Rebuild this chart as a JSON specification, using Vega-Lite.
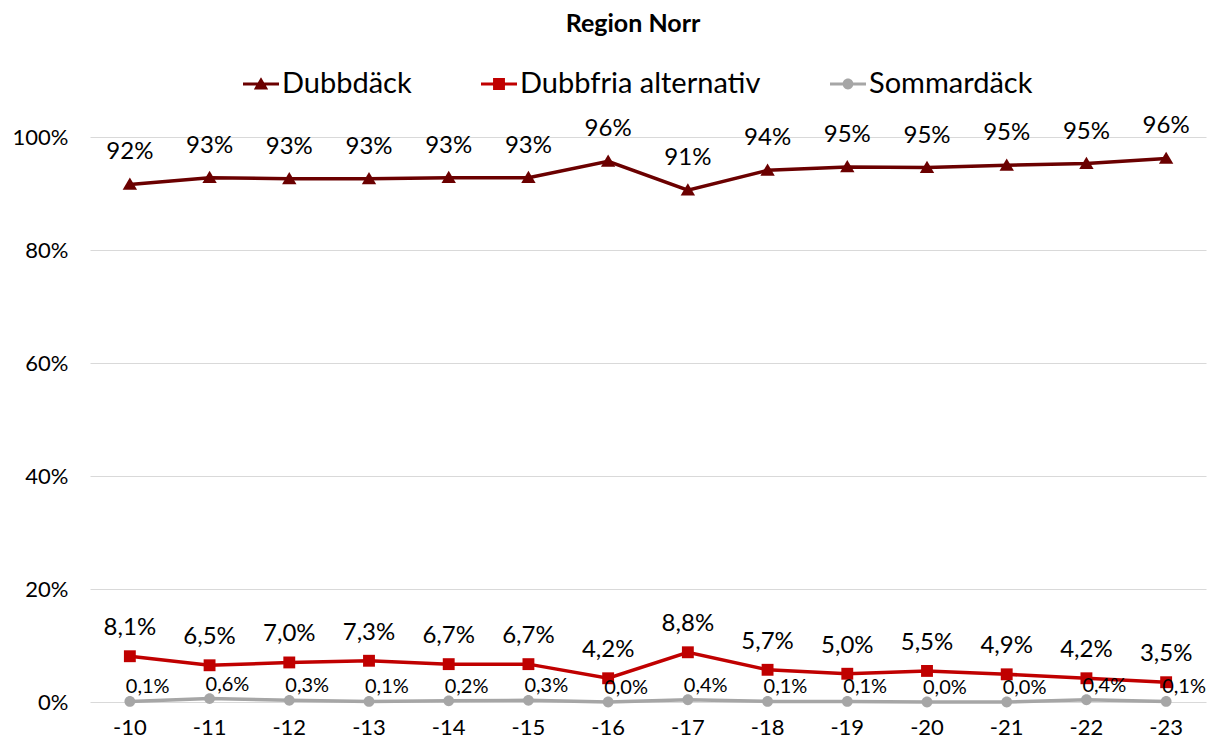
{
  "$schema": "https://vega.github.io/schema/vega-lite/v6.json",
  "autosize": "none",
  "width": 1116,
  "height": 565,
  "padding": {"left": 90, "top": 137, "right": 16, "bottom": 45},
  "background": "white",
  "config": {
    "locale": {"number": {"decimal": ",", "thousands": " ", "grouping": [3], "currency": ["", " kr"]}},
    "view": {"stroke": null},
    "font": "Lato",
    "axis": {"labelFont": "Lato", "labelColor": "#000000", "labelFontSize": 22, "ticks": false, "domain": false, "title": null}
  },
  "title": {"text": "Region Norr", "font": "Lato", "fontSize": 25, "fontWeight": "bold", "color": "#000000", "anchor": "middle", "frame": "group", "dx": -15, "offset": 28},
  "data": {"values": [
    {"year": "-10", "series": "Dubbdäck", "value": 0.916},
    {"year": "-11", "series": "Dubbdäck", "value": 0.928},
    {"year": "-12", "series": "Dubbdäck", "value": 0.926},
    {"year": "-13", "series": "Dubbdäck", "value": 0.926},
    {"year": "-14", "series": "Dubbdäck", "value": 0.928},
    {"year": "-15", "series": "Dubbdäck", "value": 0.928},
    {"year": "-16", "series": "Dubbdäck", "value": 0.957},
    {"year": "-17", "series": "Dubbdäck", "value": 0.906},
    {"year": "-18", "series": "Dubbdäck", "value": 0.941},
    {"year": "-19", "series": "Dubbdäck", "value": 0.947},
    {"year": "-20", "series": "Dubbdäck", "value": 0.946},
    {"year": "-21", "series": "Dubbdäck", "value": 0.950},
    {"year": "-22", "series": "Dubbdäck", "value": 0.953},
    {"year": "-23", "series": "Dubbdäck", "value": 0.962},
    {"year": "-10", "series": "Dubbfria alternativ", "value": 0.081},
    {"year": "-11", "series": "Dubbfria alternativ", "value": 0.065},
    {"year": "-12", "series": "Dubbfria alternativ", "value": 0.070},
    {"year": "-13", "series": "Dubbfria alternativ", "value": 0.073},
    {"year": "-14", "series": "Dubbfria alternativ", "value": 0.067},
    {"year": "-15", "series": "Dubbfria alternativ", "value": 0.067},
    {"year": "-16", "series": "Dubbfria alternativ", "value": 0.042},
    {"year": "-17", "series": "Dubbfria alternativ", "value": 0.088},
    {"year": "-18", "series": "Dubbfria alternativ", "value": 0.057},
    {"year": "-19", "series": "Dubbfria alternativ", "value": 0.050},
    {"year": "-20", "series": "Dubbfria alternativ", "value": 0.055},
    {"year": "-21", "series": "Dubbfria alternativ", "value": 0.049},
    {"year": "-22", "series": "Dubbfria alternativ", "value": 0.042},
    {"year": "-23", "series": "Dubbfria alternativ", "value": 0.035},
    {"year": "-10", "series": "Sommardäck", "value": 0.001},
    {"year": "-11", "series": "Sommardäck", "value": 0.006},
    {"year": "-12", "series": "Sommardäck", "value": 0.003},
    {"year": "-13", "series": "Sommardäck", "value": 0.001},
    {"year": "-14", "series": "Sommardäck", "value": 0.002},
    {"year": "-15", "series": "Sommardäck", "value": 0.003},
    {"year": "-16", "series": "Sommardäck", "value": 0.000},
    {"year": "-17", "series": "Sommardäck", "value": 0.004},
    {"year": "-18", "series": "Sommardäck", "value": 0.001},
    {"year": "-19", "series": "Sommardäck", "value": 0.001},
    {"year": "-20", "series": "Sommardäck", "value": 0.000},
    {"year": "-21", "series": "Sommardäck", "value": 0.000},
    {"year": "-22", "series": "Sommardäck", "value": 0.004},
    {"year": "-23", "series": "Sommardäck", "value": 0.001}
  ]},
  "encoding": {
    "x": {"field": "year", "type": "nominal", "sort": null, "scale": {"type": "band", "paddingInner": 0, "paddingOuter": 0},
          "axis": {"labelAngle": 0, "labelPadding": 15, "grid": false}},
    "y": {"field": "value", "type": "quantitative", "scale": {"domain": [0, 1], "nice": false},
          "axis": {"format": ".0%", "values": [0, 0.2, 0.4, 0.6, 0.8, 1], "grid": true, "gridColor": "#D9D9D9", "gridWidth": 1, "labelPadding": 22}}
  },
  "layer": [
    {
      "transform": [{"filter": "datum.series === 'Dubbdäck'"}],
      "layer": [
        {"mark": {"type": "line", "strokeWidth": 3.5, "color": "#6B0000"}, "encoding": {}},
        {"mark": {"type": "point", "filled": true, "opacity": 1, "size": 1296, "strokeWidth": 0, "color": "#6B0000", "shape": "M0,-0.38L0.4,0.3L-0.4,0.3Z"}, "encoding": {}},
        {"mark": {"type": "text", "font": "Lato", "fontSize": 24, "color": "#000000", "baseline": "middle", "dy": -32},
         "encoding": {"text": {"field": "value", "type": "quantitative", "format": ".0%"}}}
      ]
    },
    {
      "transform": [{"filter": "datum.series === 'Dubbfria alternativ'"}],
      "layer": [
        {"mark": {"type": "line", "strokeWidth": 3.5, "color": "#C00000"}, "encoding": {}},
        {"mark": {"type": "point", "filled": true, "opacity": 1, "size": 1296, "strokeWidth": 0, "color": "#C00000", "shape": "M-0.33,-0.33H0.33V0.33H-0.33Z"}, "encoding": {}},
        {"mark": {"type": "text", "font": "Lato", "fontSize": 24, "color": "#000000", "baseline": "middle", "dy": -28},
         "encoding": {"text": {"field": "value", "type": "quantitative", "format": ".1%"}}}
      ]
    },
    {
      "transform": [{"filter": "datum.series === 'Sommardäck'"}],
      "layer": [
        {"mark": {"type": "line", "strokeWidth": 3.5, "color": "#A6A6A6"}, "encoding": {}},
        {"mark": {"type": "point", "filled": true, "opacity": 1, "size": 1296, "strokeWidth": 0, "color": "#A6A6A6", "shape": "M0.3,0A0.3,0.3,0,1,1,-0.3,0A0.3,0.3,0,1,1,0.3,0Z"}, "encoding": {}},
        {"mark": {"type": "text", "font": "Lato", "fontSize": 20, "color": "#000000", "baseline": "middle", "align": "left", "dx": -4, "dy": -14},
         "encoding": {"text": {"field": "value", "type": "quantitative", "format": ".1%"}}}
      ]
    },
    {
      "transform": [{"filter": "false"}],
      "mark": {"type": "point", "filled": true, "opacity": 1, "size": 1296, "strokeWidth": 0},
      "encoding": {
        "color": {"field": "series", "type": "nominal", "scale": {"domain": ["Dubbdäck", "Dubbfria alternativ", "Sommardäck"], "range": ["#6B0000", "#C00000", "#A6A6A6"]},
          "legend": {"title": null, "orient": "none", "legendX": 152, "legendY": -72, "direction": "horizontal", "labelFont": "Lato", "labelFontSize": 29, "labelColor": "#000000", "labelLimit": 400, "symbolSize": 1296, "labelOffset": 2, "columnPadding": 68}},
        "shape": {"field": "series", "type": "nominal", "scale": {"domain": ["Dubbdäck", "Dubbfria alternativ", "Sommardäck"], "range": [
          "M-1,-0.09H1V0.09H-1ZM0,-0.38L0.4,0.3L-0.4,0.3Z",
          "M-1,-0.09H1V0.09H-1ZM-0.33,-0.33H0.33V0.33H-0.33Z",
          "M-1,-0.09H1V0.09H-1ZM0.3,0A0.3,0.3,0,1,1,-0.3,0A0.3,0.3,0,1,1,0.3,0Z"
        ]},
          "legend": {"title": null, "orient": "none", "legendX": 152, "legendY": -72, "direction": "horizontal", "labelFont": "Lato", "labelFontSize": 29, "labelColor": "#000000", "labelLimit": 400, "symbolSize": 1296, "labelOffset": 2, "columnPadding": 68}}
      }
    }
  ]
}
